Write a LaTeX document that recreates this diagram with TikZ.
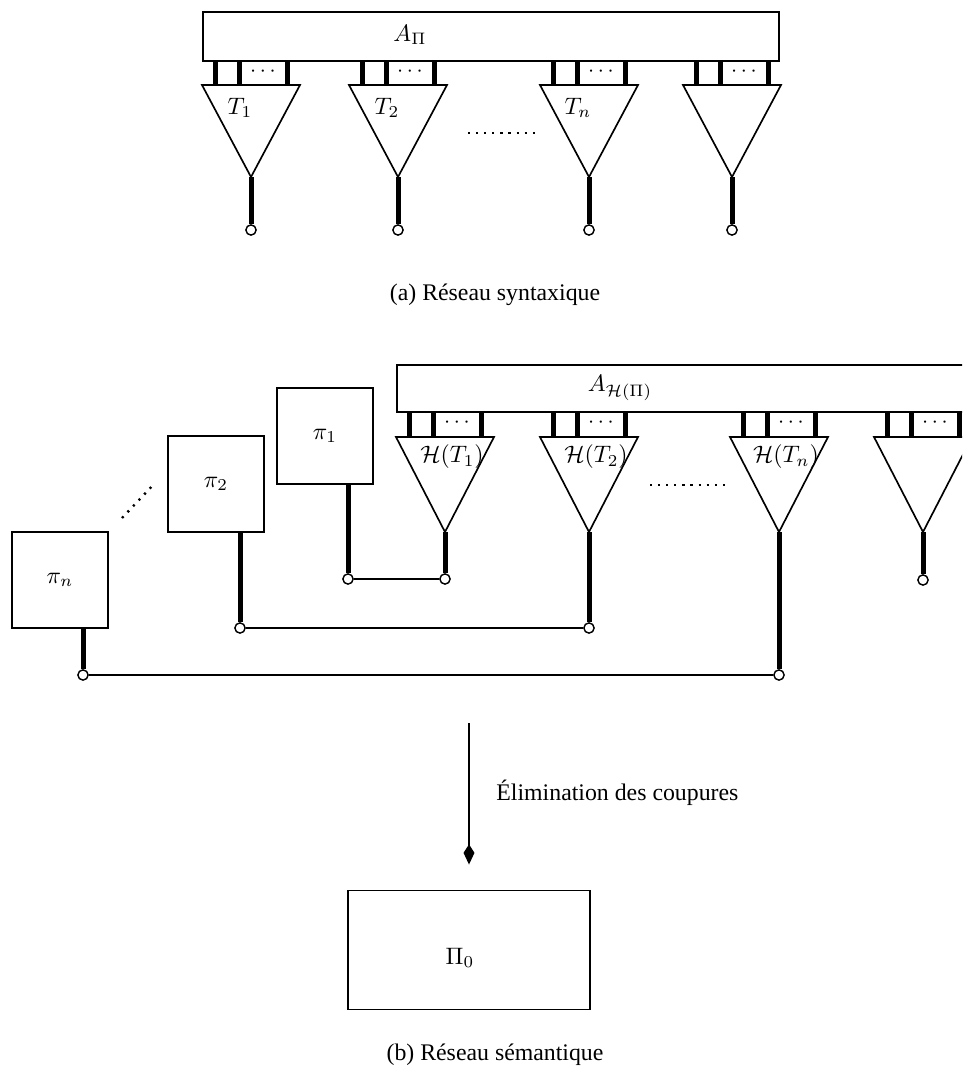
\documentclass[tikz,border=0pt]{standalone}
\usepackage{fontspec}
\setmainfont{Liberation Serif}
\usetikzlibrary{arrows.meta}

\begin{document}
\begin{tikzpicture}[x=0.42pt,y=-0.42pt,
  bar/.style={line width=2.1pt},
  stem/.style={line width=2.1pt},
  wire/.style={line width=0.5pt},
  tri/.style={line width=0.7pt},
  port/.style={circle,draw,line width=0.6pt,fill=white,inner sep=0pt,minimum size=4.3pt},
  proofbox/.style={draw,line width=0.8pt,minimum width=40.5pt,minimum height=40.5pt,inner sep=0pt},
  dots/.style={line width=1pt,dash pattern=on 0.9pt off 2.5pt}]
\useasboundingbox (0,0) rectangle (962,1088);
\clip (0,0) rectangle (962,1088);

% (a) syntactic net
\draw[line width=0.8pt] (203,12) rectangle (779,61);
\node (apia) at (410,35) {$A_\Pi$};
\foreach \x/\i in {251/1,398/2,589/3,732/4}{
  \draw[tri] (\x-49,85) -- (\x+49,85) -- (\x,177) coordinate (ta\i) -- cycle;
  \draw[bar] (\x-36,61) -- (\x-36,85);
  \draw[bar] (\x-12,61) -- (\x-12,85);
  \draw[bar] (\x+36,61) -- (\x+36,85);
  \node[font=\small] (dta\i) at (\x+12,72) {$\cdots$};
  \node[port] (ca\i) at (\x,230) {};
  \draw[stem] (ta\i) -- (ca\i);
}
\node (lt1) at (240,108) {$T_1$};
\node (lt2) at (387,108) {$T_2$};
\node (ltn) at (578,108) {$T_n$};
\draw[dots] (468,133) -- (540,133);
\node (capa) at (495,295) {(a) Réseau syntaxique};

% (b) semantic net
\draw[line width=0.8pt] (397,365) rectangle (1000,412);
\node (ahpi) at (620,388) {$A_{\mathcal{H}(\Pi)}$};
\foreach \x/\i/\y in {445/1/579,589/2/628,779/3/675,923/4/580}{
  \draw[tri] (\x-49,437) -- (\x+49,437) -- (\x,532) coordinate (tb\i) -- cycle;
  \draw[bar] (\x-36,412) -- (\x-36,437);
  \draw[bar] (\x-12,412) -- (\x-12,437);
  \draw[bar] (\x+36,412) -- (\x+36,437);
  \node[font=\small] (dtb\i) at (\x+12,423) {$\cdots$};
  \node[port] (cb\i) at (\x,\y) {};
  \draw[stem] (tb\i) -- (cb\i);
}
\node (lh1) at (452,457) {$\mathcal{H}(T_1)$};
\node (lh2) at (596,457) {$\mathcal{H}(T_2)$};
\node (lhn) at (786,457) {$\mathcal{H}(T_n)$};
\draw[dots] (650,485) -- (730,485);

% proofs pi
\node[proofbox] (pi1) at (325,436) {$\pi_1$};
\node[proofbox] (pi2) at (216,484) {$\pi_2$};
\node[proofbox] (pin) at (60,580) {$\pi_n$};
\draw[dots] (122,518) -- (155,483);
\node[port] (cp1) at (348,579) {};
\node[port] (cp2) at (240,628) {};
\node[port] (cpn) at (83,675) {};
\draw[stem] (cp1 |- pi1.south) -- (cp1);
\draw[stem] (cp2 |- pi2.south) -- (cp2);
\draw[stem] (cpn |- pin.south) -- (cpn);
\draw[wire] (cp1) -- (cb1);
\draw[wire] (cp2) -- (cb2);
\draw[wire] (cpn) -- (cb3);

% cut elimination
\node[draw,line width=0.8pt,minimum width=101.6pt,minimum height=50pt] (pi0) at (469,950) {};
\node (lpi0) at (460,958) {$\Pi_0$};
\coordinate (elimtop) at (469,723);
\draw[line width=1pt,-{Kite[length=8.5pt,width=4.6pt,inset=3.6pt]}] (elimtop) -- ([yshift=10.5pt]pi0.north);
\node[anchor=west] (elimlbl) at (488,793) {Élimination des coupures};
\node (capb) at (495,1055) {(b) Réseau sémantique};
\end{tikzpicture}
\end{document}
